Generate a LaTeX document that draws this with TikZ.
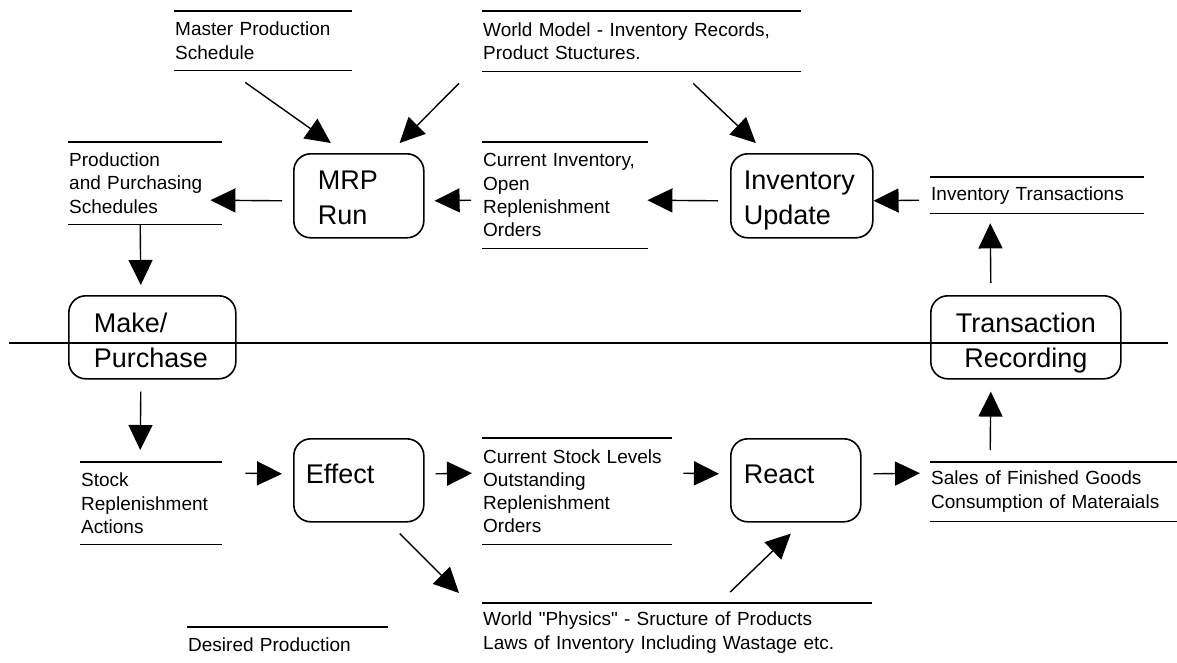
\documentclass[tikz,border=0pt]{standalone}
\usepackage{fontspec}
\setmainfont{Liberation Sans}[Ligatures=TeXOff]
\usetikzlibrary{arrows.meta}
\begin{document}
\begin{tikzpicture}[x=1pt,y=-1pt,
  small/.style={font=\fontsize{19}{23.3}\selectfont},
  big/.style={font=\fontsize{27}{35}\selectfont},
  proc/.style={draw, line width=1.6pt, rounded corners=17pt, big,
    anchor=north west, align=left, inner ysep=0pt},
  twoline/.style={text height=23pt, text depth=35pt},
  oneline/.style={text height=7pt, text depth=0pt},
  store/.style={small, anchor=north west, align=left,
    inner xsep=1pt, inner ysep=0pt},
  rule/.style={line width=1.8pt},
  arr/.style={line width=1.4pt, -{Triangle[length=25pt,width=24pt]}}]
\useasboundingbox (0,0) rectangle (1177,662);

% processes
\node[proc, twoline, minimum width=130, minimum height=84, inner xsep=24pt, text width=82pt] (mrp) at (293,153) {MRP\\Run};
\node[proc, twoline, minimum width=142, minimum height=84, inner xsep=13pt, text width=116pt] (iu) at (730,153) {Inventory\\Update};
\node[proc, twoline, text height=26pt, minimum width=167, minimum height=83, inner xsep=25pt, text width=117pt] (mp) at (68,295) {Make/\\Purchase};
\node[proc, twoline, text height=26pt, minimum width=190, minimum height=83, inner xsep=8pt, text width=174pt, align=center] (tr) at (930,295) {Transaction\\Recording};
\node[proc, oneline, minimum width=130, minimum height=83, inner xsep=12pt, text width=106pt] (eff) at (293,438) {Effect};
\node[proc, oneline, minimum width=130, minimum height=83, inner xsep=13pt, text width=104pt] (react) at (730,438) {React};

% data stores
\node[store, minimum width=178, minimum height=59, text width=176pt] (mps) at (174,11) {Master Production\\Schedule};
\node[store, minimum width=319, minimum height=60, text width=317pt] (wm) at (482,11) {World Model - Inventory Records,\\Product Stuctures.};
\node[store, minimum width=154, minimum height=82, text width=152pt] (pps) at (68,142) {Production\\and Purchasing\\Schedules};
\node[store, minimum width=166, minimum height=106, text width=164pt] (ci) at (482,142) {Current Inventory,\\Open\\Replenishment\\Orders};
\node[store, minimum width=214, minimum height=36, text width=212pt] (it) at (930,177) {Inventory Transactions};
\node[store, minimum width=142, minimum height=82, text width=140pt] (sra) at (80,462) {Stock\\Replenishment\\Actions};
\node[store, minimum width=190, minimum height=106, text width=188pt] (csl) at (482,438) {Current Stock Levels\\Outstanding\\Replenishment\\Orders};
\node[store, minimum width=247, minimum height=59, text width=245pt] (sales) at (930,462) {Sales of Finished Goods\\Consumption of Materaials};
\node[store, minimum width=390, minimum height=59, text width=388pt] (wp) at (482,603) {World "Physics" - Sructure of Products\\Laws of Inventory Including Wastage etc.};
\node[store, minimum width=201, minimum height=34, text width=199pt] (dp) at (187,627) {Desired Production};

\foreach \n in {mps,wm,pps,ci,it,sra,csl,sales}
  \draw[rule] (\n.north west) -- (\n.north east) (\n.south west) -- (\n.south east);
\foreach \n in {wp,dp}
  \draw[rule] (\n.north west) -- (\n.north east);

% boundary between the information system and the physical world
\coordinate (bl) at (9,343);
\coordinate (br) at (1168,343);
\draw[rule] (bl) -- (br);

% flows
\draw[arr] ([shift={(-18,12)}]mps.south) -- ([shift={(-28,-10)}]mrp.north);
\draw[arr] ([shift={(-23,12)}]wm.south west) -- ([shift={(-25,-10)}]mrp.north east);
\draw[arr] ([shift={(51.5,12)}]wm.south) -- ([shift={(-46,-10)}]iu.north);
\draw[arr] ([shift={(-11,5)}]mrp.west) -- ([shift={(-12,17)}]pps.east);
\draw[arr] ([shift={(-11,5)}]ci.west) -- ([shift={(10,5)}]mrp.east);
\draw[arr] ([shift={(-12,5)}]iu.west) -- ([shift={(-1,5)}]ci.east);
\draw[arr] ([shift={(-11,5)}]it.west) -- ([shift={(0,5)}]iu.east);
\draw[arr] ([shift={(-35,-12)}]tr.north) -- ([shift={(-47,10)}]it.south);
\draw[arr] ([shift={(-5,0)}]pps.south) -- ([shift={(-11.5,-10)}]mp.north);
\draw[arr] ([shift={(-11.5,12)}]mp.south) -- ([shift={(-11,-12)}]sra.north);
\draw[arr] ([shift={(23,-30)}]sra.east) -- ([shift={(-11,-6.5)}]eff.west);
\draw[arr] ([shift={(11,-6.5)}]eff.east) -- ([shift={(-10,-18)}]csl.west);
\draw[arr] ([shift={(11,-18)}]csl.east) -- ([shift={(-11,-6.5)}]react.west);
\draw[arr] ([shift={(12,-6.5)}]react.east) -- ([shift={(-10,-18.5)}]sales.west);
\draw[arr] ([shift={(-63.5,-12)}]sales.north) -- ([shift={(-35,12)}]tr.south);
\draw[arr] ([shift={(41,11)}]eff.south) -- ([shift={(-23,-10)}]wp.north west);
\draw[arr] ([shift={(53,-11)}]wp.north) -- ([shift={(-5,11)}]react.south);
\end{tikzpicture}
\end{document}
